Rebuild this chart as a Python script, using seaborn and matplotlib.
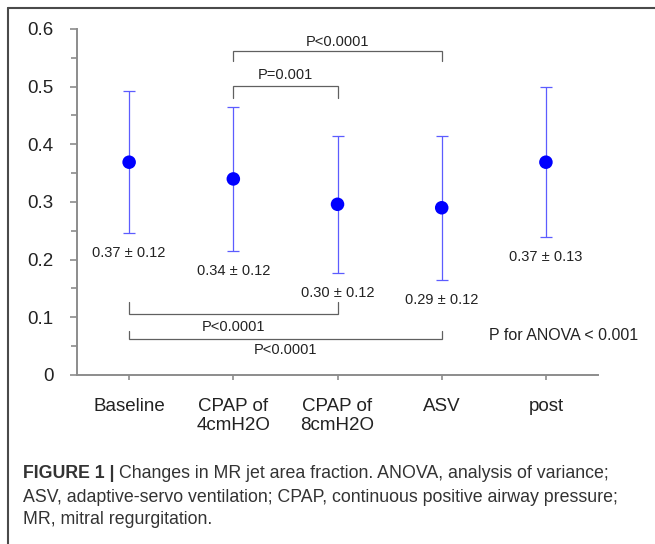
import numpy as np
import matplotlib
matplotlib.use("Agg")
import matplotlib.pyplot as plt
from matplotlib.lines import Line2D
from matplotlib.ticker import MultipleLocator, FuncFormatter
import seaborn as sns

# values
groups = ["Baseline", "CPAP of\n4cmH2O", "CPAP of\n8cmH2O", "ASV", "post"]
means = [0.369, 0.340, 0.296, 0.290, 0.369]
sds = [0.123, 0.125, 0.119, 0.125, 0.130]
value_labels = ["0.37 ± 0.12", "0.34 ± 0.12", "0.30 ± 0.12", "0.29 ± 0.12", "0.37 ± 0.13"]

# pairwise comparisons: (group a, group b, p text)
comparisons = [(1, 3, "P<0.0001"), (1, 2, "P=0.001"), (0, 2, "P<0.0001"), (0, 3, "P<0.0001")]
anova_text = "P for ANOVA < 0.001"

caption_bold = "FIGURE 1 | "
caption_lines = [
    "Changes in MR jet area fraction. ANOVA, analysis of variance;",
    "ASV, adaptive-servo ventilation; CPAP, continuous positive airway pressure;",
    "MR, mitral regurgitation.",
]

sns.set_theme(style="white")
plt.rcParams["font.family"] = ["Liberation Sans", "DejaVu Sans"]

fig = plt.figure(figsize=(6.55, 5.44), dpi=100)
ax = fig.add_axes([0.1176, 0.3107, 0.7954, 0.636])

pos = np.arange(len(groups))
ax.errorbar(pos, means, yerr=sds, fmt="none", ecolor="#5c5cff", elinewidth=0.9,
            capsize=4, capthick=0.9, zorder=2)
sns.scatterplot(x=pos, y=means, color="#0000ff", s=95, edgecolor="none", ax=ax, zorder=3)

# mean +/- sd labels under each bar
for i, (m, s, lab) in enumerate(zip(means, sds, value_labels)):
    ax.text(i, m - s - 0.035, lab, ha="center", va="center", fontsize=10.5, color="#222222")

# brackets
gray = "#606060"
top_specs = {(1, 3): (0.561, 0.544, 0.578), (1, 2): (0.501, 0.481, 0.520)}
bot_specs = {(0, 2): (0.105, 0.126, 0.084), (0, 3): (0.062, 0.077, 0.043)}
for a, b, txt in comparisons:
    yl, yd, yt = top_specs.get((a, b)) or bot_specs[(a, b)]
    ax.plot([a, a, b, b], [yd, yl, yl, yd], color=gray, lw=0.9, solid_joinstyle="miter")
    ax.text((a + b) / 2, yt, txt, ha="center", va="center", fontsize=10.5, color="#222222")

ax.text(3.45, 0.068, anova_text, ha="left", va="center", fontsize=11.5, color="#222222")

ax.set_xlim(-0.5, 4.5)
ax.set_ylim(0, 0.6)
ax.set_xticks(pos)
ax.set_xticklabels(groups, fontsize=13.5, color="#222222", linespacing=1.15)
ax.yaxis.set_major_locator(MultipleLocator(0.1))
ax.yaxis.set_minor_locator(MultipleLocator(0.05))
ax.yaxis.set_major_formatter(FuncFormatter(lambda v, _: "0" if abs(v) < 1e-9 else f"{v:.1f}"))
for lab in ax.get_yticklabels():
    lab.set_fontsize(13.5)
    lab.set_color("#222222")
sns.despine(ax=ax)
for sp in ["left", "bottom"]:
    ax.spines[sp].set_color("#8c8c8c")
    ax.spines[sp].set_linewidth(1.4)
ax.tick_params(axis="y", which="major", direction="out", length=5, width=1.2, color="#8c8c8c",
               left=True, pad=12, labelsize=13.5, labelcolor="#222222")
ax.tick_params(axis="y", which="minor", direction="out", length=4, width=1.2, color="#8c8c8c",
               left=True)
ax.tick_params(axis="x", direction="out", length=3.5, width=1.2, color="#8c8c8c",
               bottom=True, pad=13)

# frame lines of the figure panel
fig.add_artist(Line2D([7.5 / 655, 1.0], [1 - 8 / 544, 1 - 8 / 544], color="#4a4a4a", lw=1.5,
                      transform=fig.transFigure))
fig.add_artist(Line2D([7.5 / 655, 7.5 / 655], [0, 1 - 8 / 544], color="#4a4a4a", lw=1.5,
                      transform=fig.transFigure))

# caption
cap_size = 12.8
cap_color = "#333333"
x0 = 23 / 655
ys = [1 - 473 / 544, 1 - 497 / 544, 1 - 520 / 544]
tb = fig.text(x0, ys[0], caption_bold, fontsize=cap_size, fontweight="bold", color=cap_color,
              va="center", ha="left")
fig.canvas.draw()
bb = tb.get_window_extent()
fig.text(bb.x1 / fig.bbox.width, ys[0], caption_lines[0], fontsize=cap_size, color=cap_color,
         va="center", ha="left")
fig.text(x0, ys[1], caption_lines[1], fontsize=cap_size, color=cap_color, va="center", ha="left")
fig.text(x0, ys[2], caption_lines[2], fontsize=cap_size, color=cap_color, va="center", ha="left")

fig.savefig("out.png", dpi=100)
